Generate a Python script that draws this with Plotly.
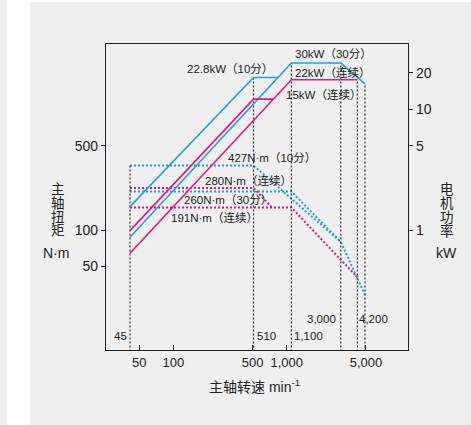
import plotly.graph_objects as go

# ---------------- data ----------------
# spindle speed break points (min^-1)
speed_points = [41.5, 510, 1100, 3000, 4200, 4900]
speed_labels = ["45", "510", "1,100", "3,000", "4,200"]

# torque curves (N·m) - dotted
t427_speed = [41.5, 510, 3000, 4900]
t427_val = [342, 342, 79.7, 29.0]
t260_speed = [41.5, 1100, 3000]
t260_val = [208.2, 208.2, 79.7]
t280_speed = [41.5, 510, 743]
t280_val = [223.4, 223.4, 153.4]
t191_speed = [41.5, 1100, 4200]
t191_val = [153.4, 153.4, 40.6]

# power curves (kW) - solid
p228_speed = [41.5, 510, 850]
p228_val = [1.563, 18.35, 18.35]
p30_speed = [41.5, 1100, 3000, 4900]
p30_val = [0.872, 24.16, 24.16, 16.27]
p15_speed = [41.5, 510, 762]
p15_val = [0.989, 12.15, 12.15]
p22_speed = [41.5, 1100, 4200]
p22_val = [0.642, 17.56, 17.56]

# tops of the vertical guide lines (kW, right axis)
guide_top_kw = [3.42, 18.35, 24.16, 24.16, 17.56, 16.27]

curve_labels = ["22.8kW（10分）", "30kW（30分）", "22kW（连续）", "15kW（连续）",
                "427N·m（10分）", "280N·m（连续）", "260N·m（30分）", "191N·m（连续）"]

x_tickvals = [50, 100, 500, 1000, 5000]
x_ticktext = ["50", "100", "500", "1,000", "5,000"]
yl_tickvals = [50, 100, 500]
yr_tickvals = [1, 5, 10, 20]

BLUE = "#1ba1e2"
MAG = "#e5147f"
FONT = "Liberation Sans, Arial, Noto Sans CJK SC, sans-serif"
TXT = "#222222"

# ---------------- figure ----------------
W, H = 471, 425
L, R, T, B = 106, 63, 44, 75
PW, PH = W - L - R, H - T - B


def px(xp, yp):
    return (xp - L) / PW, (H - B - yp) / PH


fig = go.Figure()

# vertical guides
for s, top in zip(speed_points, guide_top_kw):
    fig.add_trace(go.Scatter(x=[s, s], y=[0.01, top], yaxis="y2", mode="lines",
                             line=dict(color="#333333", width=1.2, dash="2px,2px"),
                             hoverinfo="skip", showlegend=False))

# torque (dotted)
for xs, ys, c in [(t427_speed, t427_val, BLUE), (t260_speed, t260_val, BLUE),
                  (t280_speed, t280_val, MAG), (t191_speed, t191_val, MAG)]:
    fig.add_trace(go.Scatter(x=xs, y=ys, mode="lines",
                             line=dict(color=c, width=2, dash="2px,2px"),
                             showlegend=False))

# power (solid)
for xs, ys, c in [(p228_speed, p228_val, BLUE), (p30_speed, p30_val, BLUE),
                  (p15_speed, p15_val, MAG), (p22_speed, p22_val, MAG)]:
    fig.add_trace(go.Scatter(x=xs, y=ys, yaxis="y2", mode="lines",
                             line=dict(color=c, width=1.6),
                             showlegend=False))

ann = []


def add_text(text, xp, yp, xanchor="left", size=11.5, yanchor="middle"):
    x, y = px(xp, yp)
    ann.append(dict(text=text, x=x, y=y, xref="paper", yref="paper",
                    xanchor=xanchor, yanchor=yanchor, showarrow=False, borderpad=0,
                    font=dict(size=size, color=TXT, family=FONT)))


# curve labels
add_text(curve_labels[0], 273.5, 69, "right")
add_text(curve_labels[1], 294, 54)
add_text(curve_labels[2], 294, 72.7)
add_text(curve_labels[3], 285, 94)
add_text(curve_labels[4], 226.5, 157.7)
add_text(curve_labels[5], 204, 180.3)
add_text(curve_labels[6], 183, 200)
add_text(curve_labels[7], 170, 217)

# speed labels
add_text(speed_labels[0], 127.5, 336, "right")
add_text(speed_labels[1], 256, 336)
add_text(speed_labels[2], 293, 336)
add_text(speed_labels[3], 336.5, 319.3, "right")
add_text(speed_labels[4], 358, 319.3)

# axis titles
add_text("主轴转速 min<sup>-1</sup>", 254, 385.7, "center", 14)
for ch, yy in zip("主轴扭矩", [189.7, 203.3, 217, 230.7]):
    add_text(ch, 58.3, yy, "center", 13.5)
add_text("N·m", 56, 253.3, "center", 14)
for ch, yy in zip("电机功率", [189.7, 203.3, 217, 230.7]):
    add_text(ch, 446.7, yy, "center", 13.5)
add_text("kW", 446.7, 253.3, "center", 14)

x0w, _ = px(7, 0)
x1w, _ = px(30, 0)
_, ytop = px(0, -2)
_, ybot = px(0, H + 2)
_, ytop2 = px(0, 2)
xr, _ = px(W + 2, 0)
shapes = [
    dict(type="rect", xref="paper", yref="paper", x0=x0w, x1=x1w, y0=ybot, y1=ytop,
         fillcolor="white", line=dict(width=0), layer="below"),
    dict(type="rect", xref="paper", yref="paper", x0=x0w, x1=xr, y0=ytop2, y1=ytop,
         fillcolor="white", line=dict(width=0), layer="below"),
]

yl_range = [1.006, 3.541]
fig.update_layout(
    width=W, height=H,
    margin=dict(l=L, r=R, t=T, b=B, pad=0),
    paper_bgcolor="#efefef", plot_bgcolor="#efefef",
    font=dict(family=FONT, color=TXT),
    showlegend=False,
    annotations=ann,
    shapes=shapes,
    xaxis=dict(type="log", range=[1.4065, 4.0697], tickvals=x_tickvals, ticktext=x_ticktext,
               ticks="inside", ticklen=5, tickwidth=1, tickcolor="#222",
               showline=True, linecolor="#222", linewidth=1.4, mirror=True,
               showgrid=False, zeroline=False, tickfont=dict(size=13, color=TXT)),
    yaxis=dict(type="log", range=yl_range, tickvals=yl_tickvals,
               ticktext=[str(v) for v in yl_tickvals],
               ticks="outside", ticklen=4, tickwidth=1, tickcolor="#222",
               showline=True, linecolor="#222", linewidth=1.4,
               showgrid=False, zeroline=False, tickfont=dict(size=14, color=TXT)),
    yaxis2=dict(type="log", range=[yl_range[0] - 2, yl_range[1] - 2], overlaying="y", side="right",
                tickvals=yr_tickvals, ticktext=[str(v) for v in yr_tickvals],
                ticks="outside", ticklen=4, tickwidth=1, tickcolor="#222",
                showline=True, linecolor="#222", linewidth=1.4,
                showgrid=False, zeroline=False, tickfont=dict(size=14, color=TXT)),
)

fig.write_html("out.html", config={"displayModeBar": False},
               post_script="document.body.style.margin='0';document.body.style.overflow='hidden';")
